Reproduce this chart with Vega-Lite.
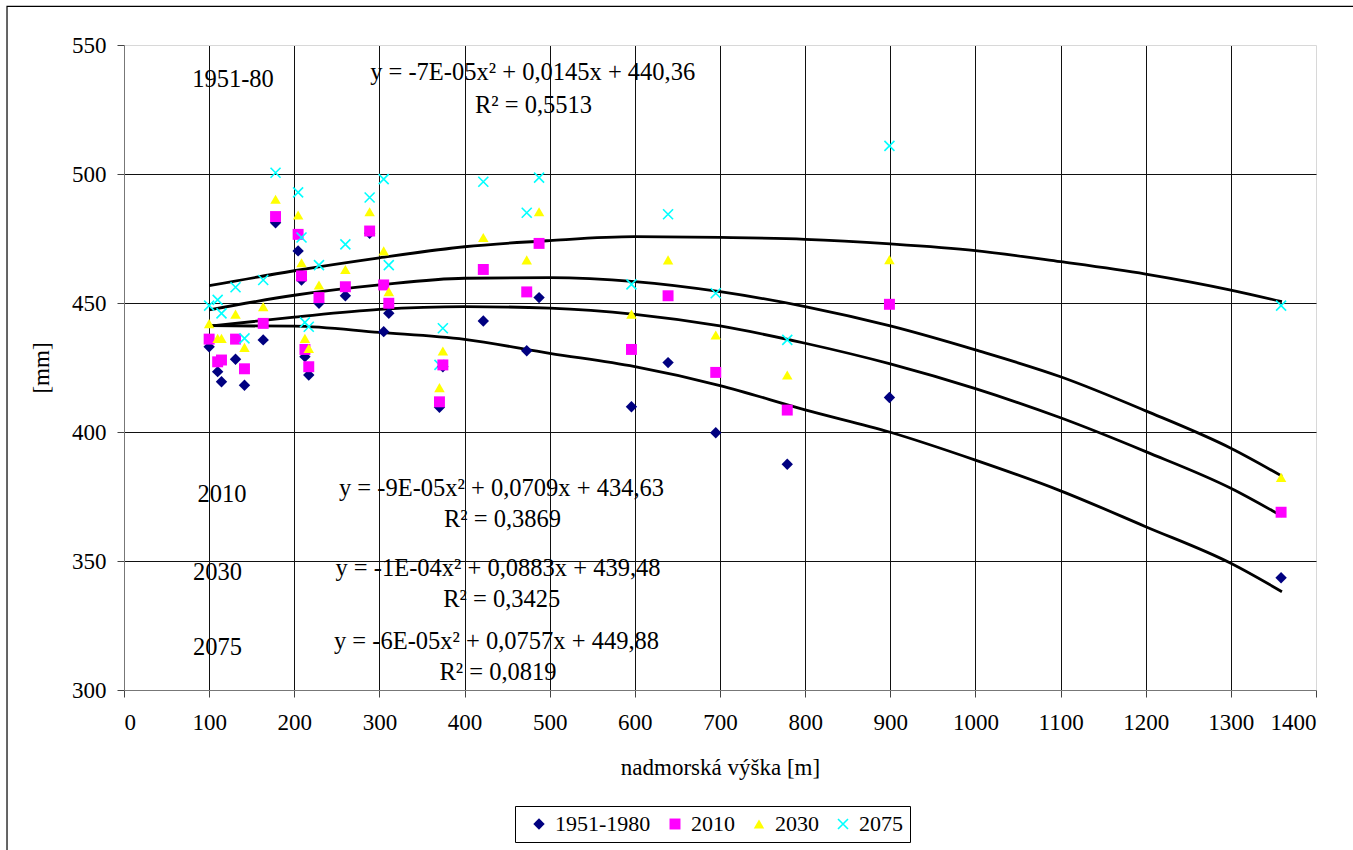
{
  "$schema": "https://vega.github.io/schema/vega-lite/v6.json",
  "width": 1192,
  "height": 645,
  "autosize": {"type": "none"},
  "padding": {"left": 124, "top": 45, "right": 37, "bottom": 160},
  "background": "white",
  "config": {
    "view": {"stroke": null},
    "font": "Liberation Serif",
    "text": {"font": "Liberation Serif"},
    "style": {
      "guide-label": {"font": "Times New Roman", "fontSize": 23, "fill": "black"},
      "guide-title": {"font": "Times New Roman", "fontSize": 23, "fontWeight": "normal", "fill": "black"}
    },
    "axis": {
      "labelFont": "Times New Roman",
      "labelFontSize": 23,
      "labelColor": "black",
      "titleFont": "Times New Roman",
      "titleFontSize": 23,
      "titleFontWeight": "normal",
      "titleColor": "black",
      "domainColor": "#777777",
      "tickColor": "#444444",
      "tickSize": 7,
      "grid": true,
      "gridWidth": 1
    },
    "legend": {
      "orient": "none",
      "legendX": 391,
      "legendY": 761,
      "direction": "horizontal",
      "columns": 4,
      "strokeColor": "black",
      "padding": 7,
      "labelFont": "Times New Roman",
      "labelFontSize": 22,
      "labelColor": "black",
      "labelOffset": 5,
      "symbolStrokeWidth": 1.6,
      "columnPadding": 7,
      "symbolOffset": 6
    }
  },
  "datasets": {
    "points": [
      {"elev": 100, "series": "1951-1980", "mm": 433},
      {"elev": 100, "series": "2010", "mm": 436},
      {"elev": 100, "series": "2030", "mm": 442},
      {"elev": 100, "series": "2075", "mm": 449},
      {"elev": 110, "series": "1951-1980", "mm": 423.4},
      {"elev": 110, "series": "2010", "mm": 427.2},
      {"elev": 110, "series": "2030", "mm": 436.3},
      {"elev": 110, "series": "2075", "mm": 451.2},
      {"elev": 114.5, "series": "1951-1980", "mm": 419.5},
      {"elev": 114.5, "series": "2010", "mm": 427.9},
      {"elev": 114.5, "series": "2030", "mm": 436.3},
      {"elev": 114.5, "series": "2075", "mm": 446},
      {"elev": 131, "series": "1951-1980", "mm": 428.2},
      {"elev": 131, "series": "2010", "mm": 436},
      {"elev": 131, "series": "2030", "mm": 445.7},
      {"elev": 131, "series": "2075", "mm": 456.1},
      {"elev": 141.5, "series": "1951-1980", "mm": 418.1},
      {"elev": 141.5, "series": "2010", "mm": 424.5},
      {"elev": 141.5, "series": "2030", "mm": 432.8},
      {"elev": 141.5, "series": "2075", "mm": 436.3},
      {"elev": 163.5, "series": "1951-1980", "mm": 435.7},
      {"elev": 163.5, "series": "2010", "mm": 442.1},
      {"elev": 163.5, "series": "2030", "mm": 448.6},
      {"elev": 163.5, "series": "2075", "mm": 458.9},
      {"elev": 178, "series": "1951-1980", "mm": 481.1},
      {"elev": 178, "series": "2010", "mm": 483.5},
      {"elev": 178, "series": "2030", "mm": 490.2},
      {"elev": 178, "series": "2075", "mm": 500.5},
      {"elev": 204.5, "series": "1951-1980", "mm": 470.2},
      {"elev": 204.5, "series": "2010", "mm": 476.6},
      {"elev": 204.5, "series": "2030", "mm": 484.1},
      {"elev": 204.5, "series": "2075", "mm": 492.9},
      {"elev": 208.5, "series": "1951-1980", "mm": 458.9},
      {"elev": 208.5, "series": "2010", "mm": 460.5},
      {"elev": 208.5, "series": "2030", "mm": 465.6},
      {"elev": 208.5, "series": "2075", "mm": 475.4},
      {"elev": 212.5, "series": "1951-1980", "mm": 429.2},
      {"elev": 212.5, "series": "2010", "mm": 432},
      {"elev": 212.5, "series": "2030", "mm": 436.3},
      {"elev": 212.5, "series": "2075", "mm": 442.5},
      {"elev": 217, "series": "1951-1980", "mm": 422.1},
      {"elev": 217, "series": "2010", "mm": 425.3},
      {"elev": 217, "series": "2030", "mm": 432.4},
      {"elev": 217, "series": "2075", "mm": 440.8},
      {"elev": 229, "series": "1951-1980", "mm": 449.9},
      {"elev": 229, "series": "2010", "mm": 452.1},
      {"elev": 229, "series": "2030", "mm": 457},
      {"elev": 229, "series": "2075", "mm": 464.7},
      {"elev": 260, "series": "1951-1980", "mm": 452.8},
      {"elev": 260, "series": "2010", "mm": 456.3},
      {"elev": 260, "series": "2030", "mm": 463},
      {"elev": 260, "series": "2075", "mm": 472.7},
      {"elev": 288.5, "series": "1951-1980", "mm": 477},
      {"elev": 288.5, "series": "2010", "mm": 477.9},
      {"elev": 288.5, "series": "2030", "mm": 485.4},
      {"elev": 288.5, "series": "2075", "mm": 490.9},
      {"elev": 305, "series": "1951-1980", "mm": 438.9},
      {"elev": 305, "series": "2010", "mm": 457},
      {"elev": 305, "series": "2030", "mm": 470.2},
      {"elev": 305, "series": "2075", "mm": 498},
      {"elev": 311, "series": "1951-1980", "mm": 446},
      {"elev": 311, "series": "2010", "mm": 449.9},
      {"elev": 311, "series": "2030", "mm": 454.4},
      {"elev": 311, "series": "2075", "mm": 464.7},
      {"elev": 370.5, "series": "1951-1980", "mm": 409.6},
      {"elev": 370.5, "series": "2010", "mm": 411.7},
      {"elev": 370.5, "series": "2030", "mm": 417.2},
      {"elev": 370.5, "series": "2075", "mm": 426},
      {"elev": 374.5, "series": "1951-1980", "mm": 425.3},
      {"elev": 374.5, "series": "2010", "mm": 426},
      {"elev": 374.5, "series": "2030", "mm": 431.4},
      {"elev": 374.5, "series": "2075", "mm": 440.2},
      {"elev": 422, "series": "1951-1980", "mm": 443},
      {"elev": 422, "series": "2010", "mm": 463},
      {"elev": 422, "series": "2030", "mm": 475.4},
      {"elev": 422, "series": "2075", "mm": 497},
      {"elev": 473, "series": "1951-1980", "mm": 431.5},
      {"elev": 473, "series": "2010", "mm": 454.3},
      {"elev": 473, "series": "2030", "mm": 466.7},
      {"elev": 473, "series": "2075", "mm": 485},
      {"elev": 487.5, "series": "1951-1980", "mm": 452.1},
      {"elev": 487.5, "series": "2010", "mm": 473.1},
      {"elev": 487.5, "series": "2030", "mm": 485.4},
      {"elev": 487.5, "series": "2075", "mm": 498.6},
      {"elev": 596, "series": "1951-1980", "mm": 409.8},
      {"elev": 596, "series": "2010", "mm": 432},
      {"elev": 596, "series": "2030", "mm": 445.7},
      {"elev": 596, "series": "2075", "mm": 457.2},
      {"elev": 639, "series": "1951-1980", "mm": 426.9},
      {"elev": 639, "series": "2010", "mm": 452.8},
      {"elev": 639, "series": "2030", "mm": 466.7},
      {"elev": 639, "series": "2075", "mm": 484.4},
      {"elev": 695, "series": "1951-1980", "mm": 399.7},
      {"elev": 695, "series": "2010", "mm": 423.1},
      {"elev": 695, "series": "2030", "mm": 437.6},
      {"elev": 695, "series": "2075", "mm": 453.8},
      {"elev": 779, "series": "1951-1980", "mm": 387.5},
      {"elev": 779, "series": "2010", "mm": 408.5},
      {"elev": 779, "series": "2030", "mm": 422.1},
      {"elev": 779, "series": "2075", "mm": 435.7},
      {"elev": 899, "series": "1951-1980", "mm": 413.4},
      {"elev": 899, "series": "2010", "mm": 449.5},
      {"elev": 899, "series": "2030", "mm": 466.8},
      {"elev": 899, "series": "2075", "mm": 510.9},
      {"elev": 1359, "series": "1951-1980", "mm": 343.5},
      {"elev": 1359, "series": "2010", "mm": 368.9},
      {"elev": 1359, "series": "2030", "mm": 382.4},
      {"elev": 1359, "series": "2075", "mm": 449}
    ],
    "trends": [
      {"elev": 100, "curve": "1951-1980", "mm": 441.2},
      {"elev": 200, "curve": "1951-1980", "mm": 441},
      {"elev": 300, "curve": "1951-1980", "mm": 438.6},
      {"elev": 400, "curve": "1951-1980", "mm": 435.9},
      {"elev": 500, "curve": "1951-1980", "mm": 430.5},
      {"elev": 600, "curve": "1951-1980", "mm": 425.3},
      {"elev": 700, "curve": "1951-1980", "mm": 418},
      {"elev": 800, "curve": "1951-1980", "mm": 408.6},
      {"elev": 900, "curve": "1951-1980", "mm": 399.9},
      {"elev": 1000, "curve": "1951-1980", "mm": 389.1},
      {"elev": 1100, "curve": "1951-1980", "mm": 377.2},
      {"elev": 1200, "curve": "1951-1980", "mm": 363.3},
      {"elev": 1300, "curve": "1951-1980", "mm": 349.1},
      {"elev": 1360, "curve": "1951-1980", "mm": 338.1},
      {"elev": 100, "curve": "2010", "mm": 441},
      {"elev": 200, "curve": "2010", "mm": 444.5},
      {"elev": 300, "curve": "2010", "mm": 447.5},
      {"elev": 400, "curve": "2010", "mm": 448.6},
      {"elev": 500, "curve": "2010", "mm": 448},
      {"elev": 600, "curve": "2010", "mm": 445.6},
      {"elev": 700, "curve": "2010", "mm": 441.1},
      {"elev": 800, "curve": "2010", "mm": 434.4},
      {"elev": 900, "curve": "2010", "mm": 426.4},
      {"elev": 1000, "curve": "2010", "mm": 416.8},
      {"elev": 1100, "curve": "2010", "mm": 405.5},
      {"elev": 1200, "curve": "2010", "mm": 392.4},
      {"elev": 1300, "curve": "2010", "mm": 378.2},
      {"elev": 1360, "curve": "2010", "mm": 367.4},
      {"elev": 100, "curve": "2030", "mm": 447.3},
      {"elev": 200, "curve": "2030", "mm": 453},
      {"elev": 300, "curve": "2030", "mm": 457},
      {"elev": 400, "curve": "2030", "mm": 459.6},
      {"elev": 500, "curve": "2030", "mm": 459.8},
      {"elev": 600, "curve": "2030", "mm": 458.3},
      {"elev": 700, "curve": "2030", "mm": 454.4},
      {"elev": 800, "curve": "2030", "mm": 448.6},
      {"elev": 900, "curve": "2030", "mm": 441.1},
      {"elev": 1000, "curve": "2030", "mm": 431.8},
      {"elev": 1100, "curve": "2030", "mm": 421.4},
      {"elev": 1200, "curve": "2030", "mm": 408.2},
      {"elev": 1300, "curve": "2030", "mm": 393.7},
      {"elev": 1360, "curve": "2030", "mm": 382.9},
      {"elev": 100, "curve": "2075", "mm": 456.7},
      {"elev": 200, "curve": "2075", "mm": 462.5},
      {"elev": 300, "curve": "2075", "mm": 467.5},
      {"elev": 400, "curve": "2075", "mm": 471.8},
      {"elev": 500, "curve": "2075", "mm": 474.2},
      {"elev": 600, "curve": "2075", "mm": 475.7},
      {"elev": 700, "curve": "2075", "mm": 475.4},
      {"elev": 800, "curve": "2075", "mm": 474.7},
      {"elev": 900, "curve": "2075", "mm": 472.9},
      {"elev": 1000, "curve": "2075", "mm": 470.3},
      {"elev": 1100, "curve": "2075", "mm": 466},
      {"elev": 1200, "curve": "2075", "mm": 461.2},
      {"elev": 1300, "curve": "2075", "mm": 455},
      {"elev": 1360, "curve": "2075", "mm": 450.5}
    ],
    "notes": [
      {"elev": 128, "mm": 536.4, "label": "1951-80"},
      {"elev": 480, "mm": 539.1, "label": "y = -7E-05x² + 0,0145x + 440,36"},
      {"elev": 481, "mm": 526.4, "label": "R² = 0,5513"},
      {"elev": 115, "mm": 375.6, "label": "2010"},
      {"elev": 443.4, "mm": 377.9, "label": "y = -9E-05x² + 0,0709x + 434,63"},
      {"elev": 444.6, "mm": 365.9, "label": "R² = 0,3869"},
      {"elev": 109.8, "mm": 345.2, "label": "2030"},
      {"elev": 439.3, "mm": 346.8, "label": "y = -1E-04x² + 0,0883x + 439,48"},
      {"elev": 443.6, "mm": 334.9, "label": "R² = 0,3425"},
      {"elev": 109.8, "mm": 316.1, "label": "2075"},
      {"elev": 437.5, "mm": 318.7, "label": "y = -6E-05x² + 0,0757x + 449,88"},
      {"elev": 439.3, "mm": 306.5, "label": "R² = 0,0819"}
    ],
    "one": [{"k": 1}]
  },
  "layer": [
    {
      "data": {"name": "trends"},
      "mark": {"type": "line", "color": "black", "strokeWidth": 2.8, "interpolate": "monotone"},
      "encoding": {
        "x": {
          "field": "elev",
          "type": "quantitative",
          "scale": {"domain": [0, 1400], "nice": false, "zero": false},
          "axis": {
            "values": [0, 100, 200, 300, 400, 500, 600, 700, 800, 900, 1000, 1100, 1200, 1300, 1400],
            "title": "nadmorská výška [m]",
            "labelFont": "Times New Roman",
            "titleFont": "Times New Roman",
            "labelPadding": 14,
            "titlePadding": 22,
            "format": "d",
            "gridColor": {"condition": {"test": "datum.value === 1400 || datum.value === 0", "value": "#d8d8d8"}, "value": "#111111"}
          }
        },
        "y": {
          "field": "mm",
          "type": "quantitative",
          "scale": {"domain": [300, 550], "nice": false, "zero": false},
          "axis": {
            "values": [300, 350, 400, 450, 500, 550],
            "title": "[mm]",
            "labelFont": "Times New Roman",
            "titleFont": "Times New Roman",
            "labelPadding": 11,
            "titlePadding": 18,
            "format": "d",
            "gridColor": {"condition": {"test": "datum.value === 550 || datum.value === 300", "value": "#d8d8d8"}, "value": "#111111"}
          }
        },
        "detail": {"field": "curve", "type": "nominal"}
      }
    },
    {
      "data": {"name": "one"},
      "mark": {"type": "rect", "fill": "transparent", "stroke": "black", "strokeWidth": 1.2, "clip": false},
      "encoding": {
        "x": {"datum": -137.4, "type": "quantitative"},
        "x2": {"datum": 1445},
        "y": {"datum": 565, "type": "quantitative"},
        "y2": {"datum": 230}
      }
    },
    {
      "data": {"name": "points"},
      "mark": {"type": "point", "opacity": 1, "strokeWidth": 1.6},
      "encoding": {
        "x": {"field": "elev", "type": "quantitative"},
        "y": {"field": "mm", "type": "quantitative"},
        "shape": {
          "field": "series", "type": "nominal", "title": null,
          "scale": {"domain": ["1951-1980", "2010", "2030", "2075"], "range": ["diamond", "square", "triangle-up", "M-1,-1L1,1M-1,1L1,-1"]}
        },
        "fill": {
          "field": "series", "type": "nominal", "title": null,
          "scale": {"domain": ["1951-1980", "2010", "2030", "2075"], "range": ["#000080", "#FF00FF", "#FFFF00", "transparent"]}
        },
        "stroke": {
          "field": "series", "type": "nominal", "title": null,
          "scale": {"domain": ["1951-1980", "2010", "2030", "2075"], "range": ["transparent", "transparent", "transparent", "#00FFFF"]}
        },
        "size": {
          "field": "series", "type": "nominal", "title": null,
          "scale": {"domain": ["1951-1980", "2010", "2030", "2075"], "range": [130, 100, 170, 130]}
        }
      }
    },
    {
      "data": {"name": "notes"},
      "mark": {"type": "text", "font": "Liberation Serif", "fontSize": 24.5, "color": "black"},
      "encoding": {
        "x": {"field": "elev", "type": "quantitative"},
        "y": {"field": "mm", "type": "quantitative"},
        "text": {"field": "label", "type": "nominal"}
      }
    }
  ]
}
